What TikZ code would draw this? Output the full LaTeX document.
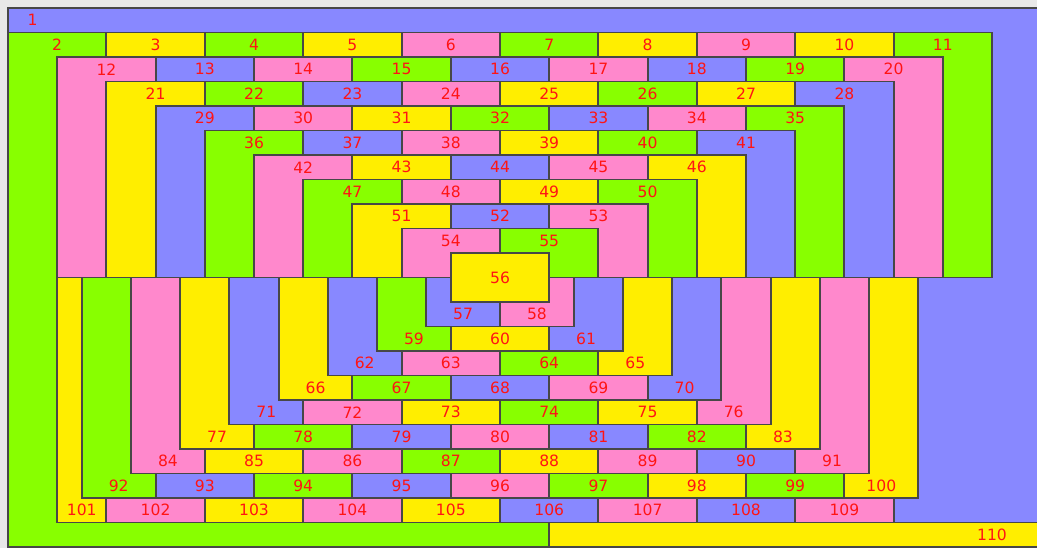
\documentclass[tikz,border=0pt]{standalone}
\usepackage{fontspec}
\setsansfont{DejaVu Sans}
\definecolor{tilepurple}{RGB}{136,136,255}
\definecolor{tilegreen}{RGB}{136,255,0}
\definecolor{tileyellow}{RGB}{255,238,0}
\definecolor{tilepink}{RGB}{255,136,204}
\definecolor{labelred}{RGB}{255,20,20}

\begin{document}
\begin{tikzpicture}[
  x=1cm, y=-0.49797cm,
  font=\sffamily\fontsize{9}{10}\selectfont,
  tile/.style={draw=black!72, line width=1.1pt},
  num/.style={text=labelred, inner sep=0pt}
]

\useasboundingbox[fill=black!9] (-0.1626,-0.3265) rectangle (20.9146,22.04);

% Outer frame.
\draw[tile, fill=tilepurple] (0,0) rectangle (21.5,22);
\node[num] (n1) at (0.5,0.5) {1};
\draw[tile, fill=tilegreen] (0,1) rectangle (11,22);
\node[num] (n2) at (1,1.5) {2};
\draw[tile, fill=tileyellow] (11,21) rectangle (21.5,22);
\node[num] (n110) at (20,21.5) {110};

% Bricks and upper columns: number / left / top / height / colour.
\foreach \n/\x/\y/\h/\c in {
  3/2/1/1/tileyellow, 4/4/1/1/tilegreen, 5/6/1/1/tileyellow, 6/8/1/1/tilepink,
  7/10/1/1/tilegreen, 8/12/1/1/tileyellow, 9/14/1/1/tilepink, 10/16/1/1/tileyellow,
  11/18/1/10/tilegreen,
  12/1/2/9/tilepink, 13/3/2/1/tilepurple, 14/5/2/1/tilepink, 15/7/2/1/tilegreen,
  16/9/2/1/tilepurple, 17/11/2/1/tilepink, 18/13/2/1/tilepurple, 19/15/2/1/tilegreen,
  20/17/2/9/tilepink,
  21/2/3/8/tileyellow, 22/4/3/1/tilegreen, 23/6/3/1/tilepurple, 24/8/3/1/tilepink,
  25/10/3/1/tileyellow, 26/12/3/1/tilegreen, 27/14/3/1/tileyellow, 28/16/3/8/tilepurple,
  29/3/4/7/tilepurple, 30/5/4/1/tilepink, 31/7/4/1/tileyellow, 32/9/4/1/tilegreen,
  33/11/4/1/tilepurple, 34/13/4/1/tilepink, 35/15/4/7/tilegreen,
  36/4/5/6/tilegreen, 37/6/5/1/tilepurple, 38/8/5/1/tilepink, 39/10/5/1/tileyellow,
  40/12/5/1/tilegreen, 41/14/5/6/tilepurple,
  42/5/6/5/tilepink, 43/7/6/1/tileyellow, 44/9/6/1/tilepurple, 45/11/6/1/tilepink,
  46/13/6/5/tileyellow,
  47/6/7/4/tilegreen, 48/8/7/1/tilepink, 49/10/7/1/tileyellow, 50/12/7/4/tilegreen,
  51/7/8/3/tileyellow, 52/9/8/1/tilepurple, 53/11/8/3/tilepink,
  54/8/9/2/tilepink, 55/10/9/2/tilegreen,
  60/9/13/1/tileyellow,
  63/8/14/1/tilepink, 64/10/14/1/tilegreen,
  67/7/15/1/tilegreen, 68/9/15/1/tilepurple, 69/11/15/1/tilepink,
  72/6/16/1/tilepink, 73/8/16/1/tileyellow, 74/10/16/1/tilegreen, 75/12/16/1/tileyellow,
  78/5/17/1/tilegreen, 79/7/17/1/tilepurple, 80/9/17/1/tilepink, 81/11/17/1/tilepurple,
  82/13/17/1/tilegreen,
  85/4/18/1/tileyellow, 86/6/18/1/tilepink, 87/8/18/1/tilegreen, 88/10/18/1/tileyellow,
  89/12/18/1/tilepink, 90/14/18/1/tilepurple,
  93/3/19/1/tilepurple, 94/5/19/1/tilegreen, 95/7/19/1/tilepurple, 96/9/19/1/tilepink,
  97/11/19/1/tilegreen, 98/13/19/1/tileyellow, 99/15/19/1/tilegreen,
  102/2/20/1/tilepink, 103/4/20/1/tileyellow, 104/6/20/1/tilepink, 105/8/20/1/tileyellow,
  106/10/20/1/tilepurple, 107/12/20/1/tilepink, 108/14/20/1/tilepurple, 109/16/20/1/tilepink}
{
  \draw[tile, fill=\c] (\x,\y) rectangle (\x+2,\y+\h);
  \node[num] (n\n) at (\x+1,\y+0.5) {\n};
}

% Lower columns, outer ones first: number / left / right / bottom row / colour.
\foreach \n/\xa/\xb/\y/\c in {
  101/1/2/20/tileyellow, 92/1.5/3/19/tilegreen, 84/2.5/4/18/tilepink,
  77/3.5/5/17/tileyellow, 71/4.5/6/16/tilepurple, 66/5.5/7/15/tileyellow,
  62/6.5/8/14/tilepurple, 59/7.5/9/13/tilegreen, 57/8.5/10/12/tilepurple,
  100/17/18.5/19/tileyellow, 91/16/17.5/18/tilepink, 83/15/16.5/17/tileyellow,
  76/14/15.5/16/tilepink, 70/13/14.5/15/tilepurple, 65/12/13.5/14/tileyellow,
  61/11/12.5/13/tilepurple, 58/10/11.5/12/tilepink}
{
  \draw[tile, fill=\c] (\xa,11) rectangle (\xb,\y+1);
  \node[num] (n\n) at ({(\xa+\xb)/2},\y+0.5) {\n};
}

% Centre tile.
\draw[tile, fill=tileyellow] (9,10) rectangle (11,12);
\node[num] (n56) at (10,11) {56};

\end{tikzpicture}
\end{document}
